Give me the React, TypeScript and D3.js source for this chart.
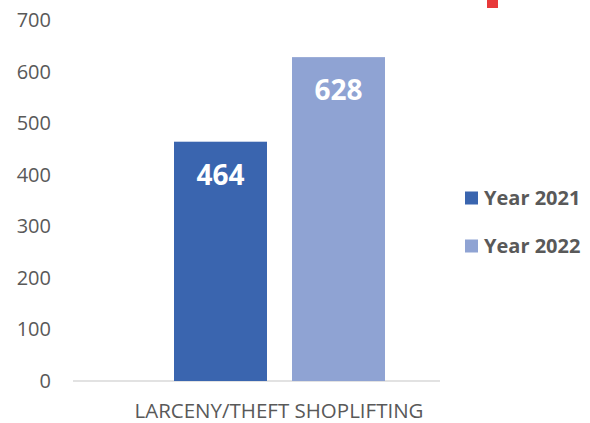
import React from "react";
import * as d3 from "d3";

const categories = ["LARCENY/THEFT SHOPLIFTING"];
const seriesNames = ["Year 2021", "Year 2022"];
const values = [464, 628];
const yTicks = [0, 100, 200, 300, 400, 500, 600, 700];
const colors = ["#3A65AF", "#8FA3D3"];

export default function App() {
  const W = 590, H = 423;
  const y = d3.scaleLinear().domain([0, 700]).range([381, 20]);
  const x0 = d3.scaleBand().domain(categories).range([73, 440]);
  const x1 = d3.scaleBand().domain(seriesNames).range([174, 385]).paddingInner(0.212).paddingOuter(0);
  const font = "'Open Sans', 'Noto Sans', sans-serif";
  return (
    <svg width={W} height={H} style={{ position: "absolute", left: 0, top: 0 }}>
      <rect width={W} height={H} fill="#fff" />
      <rect x={487} y={0} width={11} height={8} fill="#E8393A" />
      {yTicks.map((t) => (
        <text key={t} x={51} y={y(t)} dy="0.35em" textAnchor="end" fontFamily={font} fontSize={20} fill="#595959">
          {t}
        </text>
      ))}
      <line x1={x0.range()[0]} x2={x0.range()[1]} y1={y(0)} y2={y(0)} stroke="#D9D9D9" strokeWidth={1.5} />
      {values.map((v, i) => {
        const bx = x1(seriesNames[i]) ?? 0;
        const bw = x1.bandwidth();
        const cx = bx + bw / 2;
        return (
          <g key={i}>
            <rect x={bx} y={y(v)} width={bw} height={y(0) - y(v)} fill={colors[i]} />
            <text x={cx} y={y(v) + 33} dy="0.35em" textAnchor="middle" fontFamily={font} fontWeight="bold" fontSize={28} fill="#fff">
              {v}
            </text>
          </g>
        );
      })}
      {categories.map((c) => (
        <text key={c} x={279} y={411} dy="0.35em" textAnchor="middle" fontFamily={font} fontSize={20.5} fill="#595959">
          {c}
        </text>
      ))}
      {seriesNames.map((s, i) => (
        <g key={s} transform={`translate(465, ${198 + i * 48})`}>
          <rect x={0} y={-6.5} width={13} height={13} fill={colors[i]} />
          <text x={19} y={0} dy="0.35em" fontFamily={font} fontWeight="bold" fontSize={20} fill="#595959">
            {s}
          </text>
        </g>
      ))}
    </svg>
  );
}
